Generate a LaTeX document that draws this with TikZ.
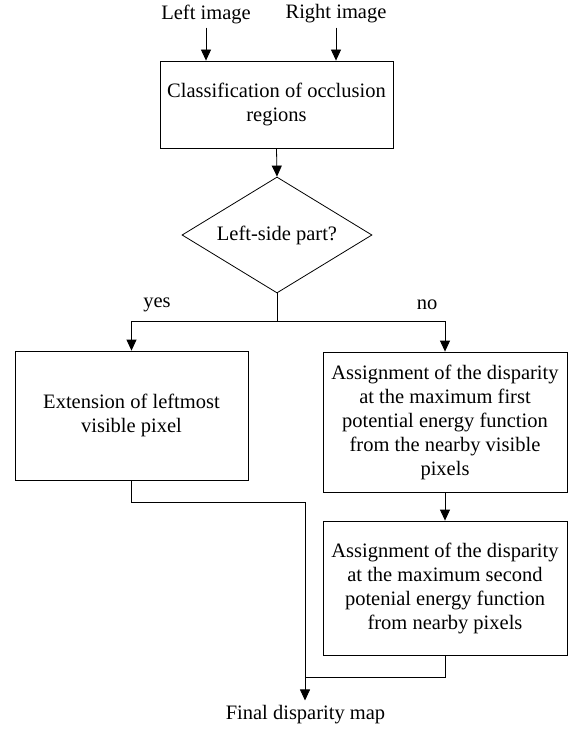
\documentclass[tikz,border=0pt]{standalone}
\usepackage{fontspec}
\setmainfont{Liberation Serif}
\usetikzlibrary{shapes.geometric,arrows.meta}
\begin{document}
\begin{tikzpicture}[x=1pt,y=-1pt,
  every node/.style={font=\fontsize{20.5}{24}\selectfont, inner sep=0pt},
  box/.style={draw, line width=0.8pt, align=center},
  dia/.style={draw, line width=0.8pt, shape=diamond, aspect=1.64, minimum width=190pt, minimum height=116pt},
  arr/.style={-{Triangle[length=11pt,width=10pt]}, line width=0.8pt},
  ln/.style={line width=0.8pt}]
\useasboundingbox (0,0) rectangle (578,730);
\node (li) at (206,14) {Left image};
\node (ri) at (336,14) {Right image};
\node[box, minimum width=233pt, minimum height=87pt] (cls) at (276.5,104.5) {Classification of occlusion\\regions};
\node[dia] (dec) at (277,235) {Left-side part?};
\node[box, minimum width=233pt, minimum height=129pt] (ext) at (131.5,415.5) {Extension of leftmost\\visible pixel};
\node[box, minimum width=244pt, minimum height=140pt] (a1) at (445,422) {Assignment of the disparity\\at the maximum first\\potential energy function\\from the nearby visible\\pixels};
\node[box, minimum width=244pt, minimum height=134pt] (a2) at (445,588) {Assignment of the disparity\\at the maximum second\\potenial energy function\\from nearby pixels};
\node (fin) at (305.5,715) {Final disparity map};
\node (yes) at (157,305) {yes};
\node (no) at (427,305) {no};
\coordinate (j) at (277,321);
\coordinate (m1) at (305,502);
\coordinate (m2) at (305,677);
\draw[arr, shorten <=4pt] (li.south) -- (li.south |- cls.north);
\draw[arr, shorten <=4pt] (ri.south) -- (ri.south |- cls.north);
\draw[arr] (cls.south) -- (dec.north);
\draw[ln] (dec.south) -- (j);
\draw[arr] (j) -| (ext.north);
\draw[arr] (j) -| (a1.north);
\draw[arr] (a1.south) -- (a2.north);
\draw[ln] (ext.south) |- (m1);
\draw[arr, shorten >=5pt] (m1) -- (m1 |- fin.north);
\draw[ln] (a2.south) |- (m2);
\end{tikzpicture}
\end{document}
